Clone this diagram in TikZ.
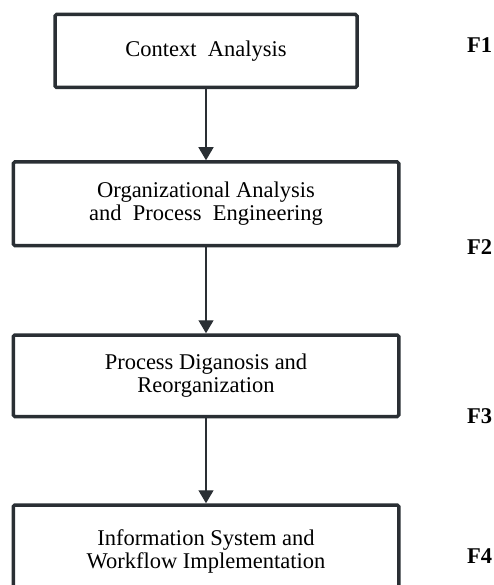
\documentclass[tikz,border=0pt]{standalone}
\usepackage{fontspec}
\setmainfont{Liberation Serif}
\usetikzlibrary{positioning,arrows.meta}
\definecolor{boxline}{RGB}{42,47,52}

\begin{document}
\begin{tikzpicture}[x=1pt,y=1pt]
\path[use as bounding box] (0,0) rectangle (494,-585);
\clip (0,0) rectangle (494,-585);

\tikzstyle{every node}+=[font=\fontsize{22.5}{23}\selectfont]
\tikzstyle{stage}=[draw=boxline,line width=3.5pt,rounded corners=1.5pt,align=center,minimum width=385.5pt]
\tikzstyle{flow}=[line width=1.4pt,boxline,-{Triangle[length=13pt,width=15pt]}]
\tikzstyle{phase}=[font=\fontsize{22.5}{23}\selectfont\bfseries]

% the four stages
\node[stage,minimum width=302pt,minimum height=73pt] (ctx) at (206,-51) {Context~ Analysis};
\node[stage,minimum height=83.5pt,below=71pt of ctx] (org) {Organizational Analysis\\and~ Process~ Engineering};
\node[stage,minimum height=81.5pt,below=86pt of org] (diag) {Process Diganosis and\\Reorganization};
\node[stage,minimum height=92pt,below=85pt of diag] (wf) {Information System and\\Workflow Implementation};

\draw[flow] (ctx) -- (org);
\draw[flow] (org) -- (diag);
\draw[flow] (diag) -- (wf);

% phase labels
\node[phase] (f1) at (479.5,-45) {F1};
\node[phase] (f2) at (479.5,-247) {F2};
\node[phase] (f3) at (479.5,-416) {F3};
\node[phase] (f4) at (479.5,-556) {F4};
\end{tikzpicture}
\end{document}
